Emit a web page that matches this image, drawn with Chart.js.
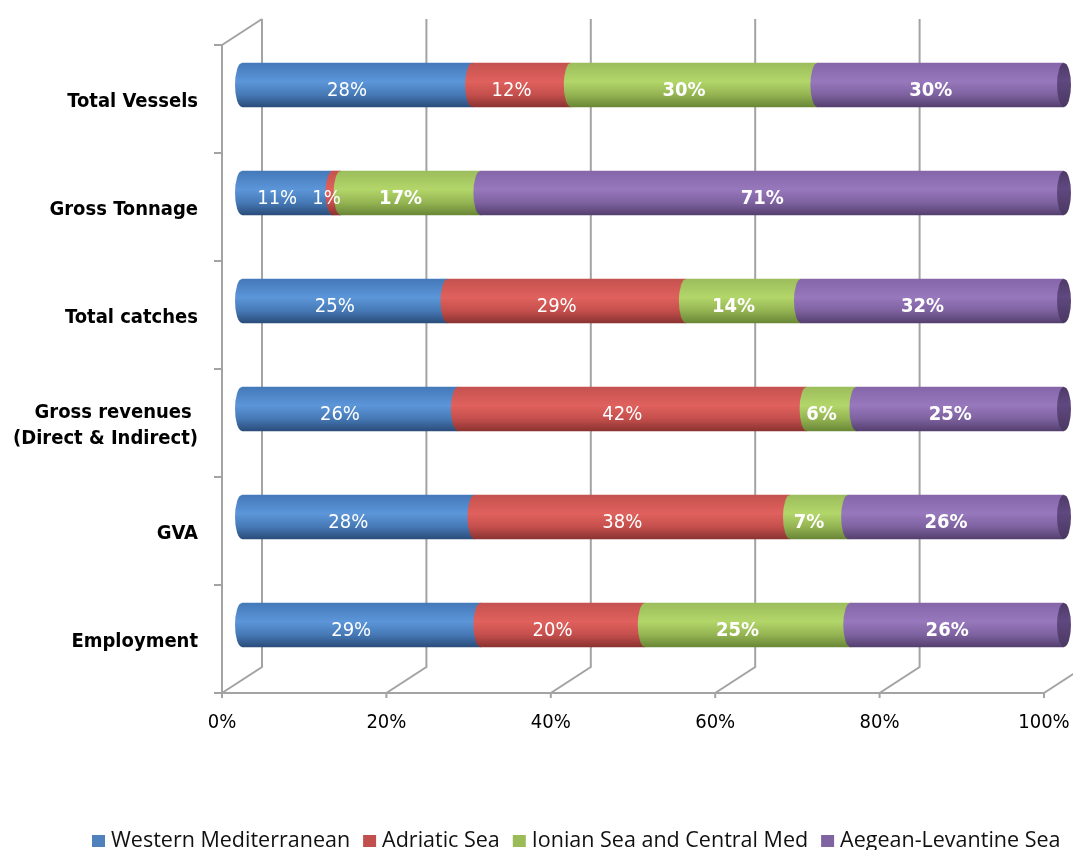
<!DOCTYPE html>
<html lang="en">
<head>
<meta charset="UTF-8">
<title>Fleet indicators by Mediterranean sub-region</title>
<script src="https://cdn.jsdelivr.net/npm/chart.js"></script>
<style>
  html, body { margin: 0; padding: 0; background: #fff; }
</style>
</head>
<body>
<canvas id="chart" width="1073" height="850"></canvas>
<script>
// indicators, top to bottom
const categories = ['Total Vessels', 'Gross Tonnage', 'Total catches', ['Gross revenues ', '(Direct & Indirect)'], 'GVA', 'Employment'];
const seriesNames = ['Western Mediterranean', 'Adriatic Sea', 'Ionian Sea and Central Med', 'Aegean-Levantine Sea'];

// share of each sub-region, %
const westernMed = [28, 11, 25, 26, 28, 29];
const adriatic   = [12,  1, 29, 42, 38, 20];
const ionian     = [30, 17, 14,  6,  7, 25];
const aegean     = [30, 71, 32, 25, 26, 26];

const xTicks = [0, 20, 40, 60, 80, 100];

const series = [westernMed, adriatic, ionian, aegean];
const totals = categories.map((_, i) => series.reduce((s, arr) => s + arr[i], 0));

// cylinder shading, top -> bottom
const baseColors = ['#4f81bd', '#c0504d', '#9bbb59', '#8064a2'];
const shadeStops = [0, 0.42, 0.72, 1];
const shades = [
  ['#4479b9', '#5c96d9', '#4679b6', '#2a4d7b'],
  ['#c4524f', '#e0615d', '#c44f4c', '#8a3331'],
  ['#9cbd5c', '#b3d66a', '#94b452', '#6a8637'],
  ['#8466a9', '#9778bc', '#7e62a0', '#54406f']
];
const capShade = ['#4e3b68', '#604880', '#4a3862'];
const boldLabels = [false, false, true, true];

const DEPTH_X = 40, DEPTH_Y = -26;  // back wall offset
const BAR_X = 20, BAR_Y = -14;      // bars sit half way into the depth
const CAP_RX = 7;
const BAR_H = 44;
const FONT = "'DejaVu Sans Condensed', 'DejaVu Sans', sans-serif";

function gradient(ctx, yMid, colors, stops) {
  const g = ctx.createLinearGradient(0, yMid - BAR_H / 2, 0, yMid + BAR_H / 2);
  colors.forEach((c, i) => g.addColorStop(stops[i], c));
  return g;
}

function barFill(c) {
  if (c.type !== 'data') return baseColors[c.datasetIndex];
  const y = c.chart.scales.y ? c.chart.scales.y.getPixelForValue(c.dataIndex) : NaN;
  if (!isFinite(y)) return baseColors[c.datasetIndex];
  return gradient(c.chart.ctx, y, shades[c.datasetIndex], shadeStops);
}

const cylinderPlugin = {
  id: 'cylinder',
  beforeDatasetsDraw(chart) {
    const {ctx, chartArea: a, scales: {x, y}} = chart;
    ctx.save();
    ctx.strokeStyle = '#a3a3a3';
    ctx.lineWidth = 2;
    ctx.beginPath();
    xTicks.forEach(v => {
      const px = x.getPixelForValue(v);
      ctx.moveTo(px, a.bottom + 5);
      ctx.lineTo(px, a.bottom);
      ctx.lineTo(px + DEPTH_X, a.bottom + DEPTH_Y);
      ctx.lineTo(px + DEPTH_X, a.top + DEPTH_Y);
    });
    ctx.moveTo(a.left, a.bottom);
    ctx.lineTo(a.right, a.bottom);
    ctx.moveTo(a.left + DEPTH_X, a.top + DEPTH_Y);
    ctx.lineTo(a.left, a.top);
    ctx.lineTo(a.left, a.bottom);
    for (let i = 0; i <= categories.length; i++) {
      const py = y.getPixelForValue(i - 0.5);
      ctx.moveTo(a.left - 8, py);
      ctx.lineTo(a.left, py);
    }
    ctx.stroke();
    ctx.restore();

    // bars are drawn shifted back into the box
    ctx.save();
    ctx.translate(BAR_X, BAR_Y);
  },
  afterDatasetsDraw(chart) {
    const ctx = chart.ctx;
    const n = chart.data.datasets.length;
    categories.forEach((_, i) => {
      for (let k = 0; k < n; k++) {
        const bar = chart.getDatasetMeta(k).data[i];
        const p = bar.getProps(['x', 'y', 'base', 'height'], true);
        const ry = p.height / 2;
        // rounded left edge of each segment, overlapping the seam by a pixel
        ctx.beginPath();
        ctx.moveTo(p.base + 1.5, p.y - ry);
        ctx.lineTo(p.base, p.y - ry);
        ctx.ellipse(p.base, p.y, CAP_RX, ry, 0, Math.PI * 1.5, Math.PI / 2, true);
        ctx.lineTo(p.base + 1.5, p.y + ry);
        ctx.closePath();
        ctx.fillStyle = gradient(ctx, p.y, shades[k], shadeStops);
        ctx.fill();
        if (k === n - 1) {
          ctx.beginPath();
          ctx.ellipse(p.x, p.y, CAP_RX, ry, 0, 0, Math.PI * 2);
          ctx.fillStyle = gradient(ctx, p.y, capShade, [0, 0.4, 1]);
          ctx.fill();
        }
      }
    });
    ctx.restore();

    // value labels
    ctx.save();
    ctx.fillStyle = '#ffffff';
    ctx.textAlign = 'center';
    ctx.textBaseline = 'middle';
    for (let k = 0; k < n; k++) {
      ctx.font = (boldLabels[k] ? 'bold ' : '') + '20px ' + FONT;
      chart.getDatasetMeta(k).data.forEach((bar, i) => {
        const p = bar.getProps(['x', 'y', 'base'], true);
        ctx.fillText(series[k][i] + '%', (p.x + p.base) / 2 + 10, p.y - 8);
      });
    }
    ctx.restore();
  },
  afterDraw(chart) {
    // legend along the bottom edge
    const ctx = chart.ctx;
    ctx.save();
    ctx.font = "21.5px 'Open Sans', sans-serif";
    ctx.textBaseline = 'alphabetic';
    let px = 92;
    const base = 847;
    seriesNames.forEach((name, k) => {
      ctx.fillStyle = baseColors[k];
      ctx.fillRect(px, base - 12, 13, 12);
      px += 13 + 6;
      ctx.fillStyle = '#111';
      ctx.fillText(name, px, base);
      px += ctx.measureText(name).width + 13;
    });
    ctx.restore();
  }
};

new Chart(document.getElementById('chart'), {
  type: 'bar',
  data: {
    labels: categories,
    datasets: series.map((arr, k) => ({
      label: seriesNames[k],
      data: arr.map((v, i) => v / totals[i] * 100),
      backgroundColor: barFill,
      borderWidth: 0,
      barThickness: BAR_H
    }))
  },
  options: {
    indexAxis: 'y',
    responsive: false,
    animation: false,
    layout: { padding: { top: 45, right: 29, left: 0, bottom: 0 } },
    plugins: {
      legend: { display: false },
      tooltip: { enabled: false }
    },
    scales: {
      x: {
        stacked: true,
        min: 0,
        max: 100,
        border: { display: false },
        grid: { display: false, drawTicks: false },
        ticks: {
          stepSize: 20,
          padding: 18,
          color: '#000',
          font: { family: FONT, size: 20 },
          callback: v => v + '%'
        },
        afterFit: s => { s.height = 157; s.paddingLeft = 0; s.paddingRight = 0; }
      },
      y: {
        stacked: true,
        border: { display: false },
        grid: { display: false, drawTicks: false },
        ticks: {
          padding: 24,
          labelOffset: 3,
          color: '#000',
          font: { family: FONT, size: 20, weight: 'bold', lineHeight: 1.3 }
        },
        afterFit: s => { s.width = 222; }
      }
    }
  },
  plugins: [cylinderPlugin]
});
</script>
</body>
</html>
